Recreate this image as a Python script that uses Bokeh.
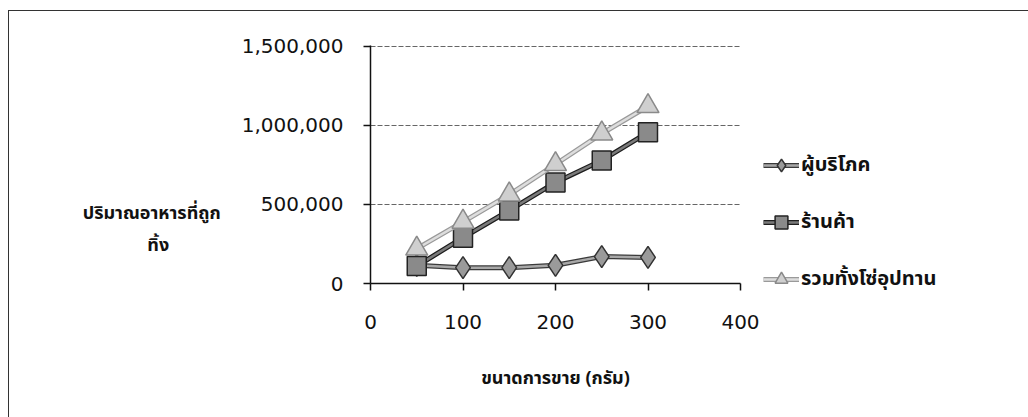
from bokeh.plotting import figure
from bokeh.models import (FixedTicker, NumeralTickFormatter, Legend, LegendItem, Range1d, InlineStyleSheet)
from bokeh.embed import file_html
from bokeh.resources import INLINE

sizes = [50, 100, 150, 200, 250, 300]
consumer = [115000, 100000, 100000, 115000, 170000, 165000]
shop = [110000, 290000, 462000, 639000, 778000, 956000]
total = [220000, 390000, 562000, 754000, 948000, 1121000]
series_names = ["ผู้บริโภค", "ร้านค้า", "รวมทั้งโซ่อุปทาน"]
x_ticks = [0, 100, 200, 300, 400]
y_ticks = [0, 500000, 1000000, 1500000]
y_title_lines = ["ปริมาณอาหารที่ถูก", "ทิ้ง"]
x_title = "ขนาดการขาย (กรัม)"

FONT = "DejaVu Sans"
THAI = "Tahoma, 'Noto Sans Thai', 'Noto Sans', sans-serif"

p = figure(width=1028, height=417, frame_width=370, frame_height=238,
           output_backend="svg", toolbar_location=None,
           x_range=Range1d(0, 400), y_range=Range1d(0, 1505000),
           min_border_left=370, min_border_right=288, min_border_top=45, min_border_bottom=134)
p.outline_line_color = None
p.xgrid.grid_line_color = None
p.ygrid.grid_line_color = "#666666"
p.ygrid.grid_line_dash = "5 2"
p.ygrid.grid_line_width = 1.2

p.xaxis.ticker = FixedTicker(ticks=x_ticks)
p.yaxis.ticker = FixedTicker(ticks=y_ticks)
p.yaxis.formatter = NumeralTickFormatter(format="0,0")
for ax in (p.xaxis[0], p.yaxis[0]):
    ax.axis_line_color = "#111111"
    ax.axis_line_width = 1.5
    ax.major_tick_line_color = "#111111"
    ax.major_tick_line_width = 1.5
    ax.minor_tick_line_color = None
    ax.major_tick_in = 0
    ax.major_tick_out = 7
    ax.major_label_text_font = FONT
    ax.major_label_text_font_size = "20px"
    ax.major_label_text_color = "#111111"
    ax.axis_label_text_font = THAI
    ax.axis_label_text_font_style = "bold"
    ax.axis_label_text_font_size = "18px"
    ax.axis_label_text_color = "#111111"
p.xaxis.major_label_standoff = 24
p.yaxis.major_label_standoff = 20
p.xaxis.axis_label = x_title
p.xaxis.axis_label_standoff = 33
pad = "\u00a0" * 11
p.yaxis.axis_label = "\n\n\n\n" + y_title_lines[0] + "\n" + y_title_lines[1] + pad
p.yaxis.axis_label_orientation = "horizontal"
p.yaxis.axis_label_standoff = 18

styles = [
    dict(data=consumer, marker="diamond", size=22, outer="#3a3a3a", inner="#a8a8a8", fill="#9a9a9a", mline="#333333"),
    dict(data=shop, marker="square", size=19, outer="#1e1e1e", inner="#7a7a7a", fill="#8a8a8a", mline="#222222"),
    dict(data=total, marker="triangle", size=22, outer="#9a9a9a", inner="#dddddd", fill="#cfcfcf", mline="#8a8a8a"),
]
items = []
for name, st in zip(series_names, styles):
    r1 = p.line(sizes, st["data"], line_color=st["outer"], line_width=5)
    r2 = p.line(sizes, st["data"], line_color=st["inner"], line_width=2.5)
    r3 = p.scatter(sizes, st["data"], marker=st["marker"], size=st["size"],
                   fill_color=st["fill"], line_color=st["mline"], line_width=1.5)
    items.append(LegendItem(label=name, renderers=[r1, r2, r3]))

legend = Legend(items=items, location=(23, -12), padding=0, margin=0,
                spacing=25, label_height=32, glyph_height=32, glyph_width=36,
                label_standoff=2, border_line_color=None, background_fill_alpha=0,
                label_text_font=THAI, label_text_font_style="bold",
                label_text_font_size="20px", label_text_color="#111111")
p.add_layout(legend, "right")

p.stylesheets = [InlineStyleSheet(css=":host{overflow:hidden;} :host::after{content:'';position:absolute;left:8px;top:10px;width:2000px;height:2000px;border:1.5px solid #333;pointer-events:none;}")]

open("out.html", "w").write(file_html(p, INLINE))
